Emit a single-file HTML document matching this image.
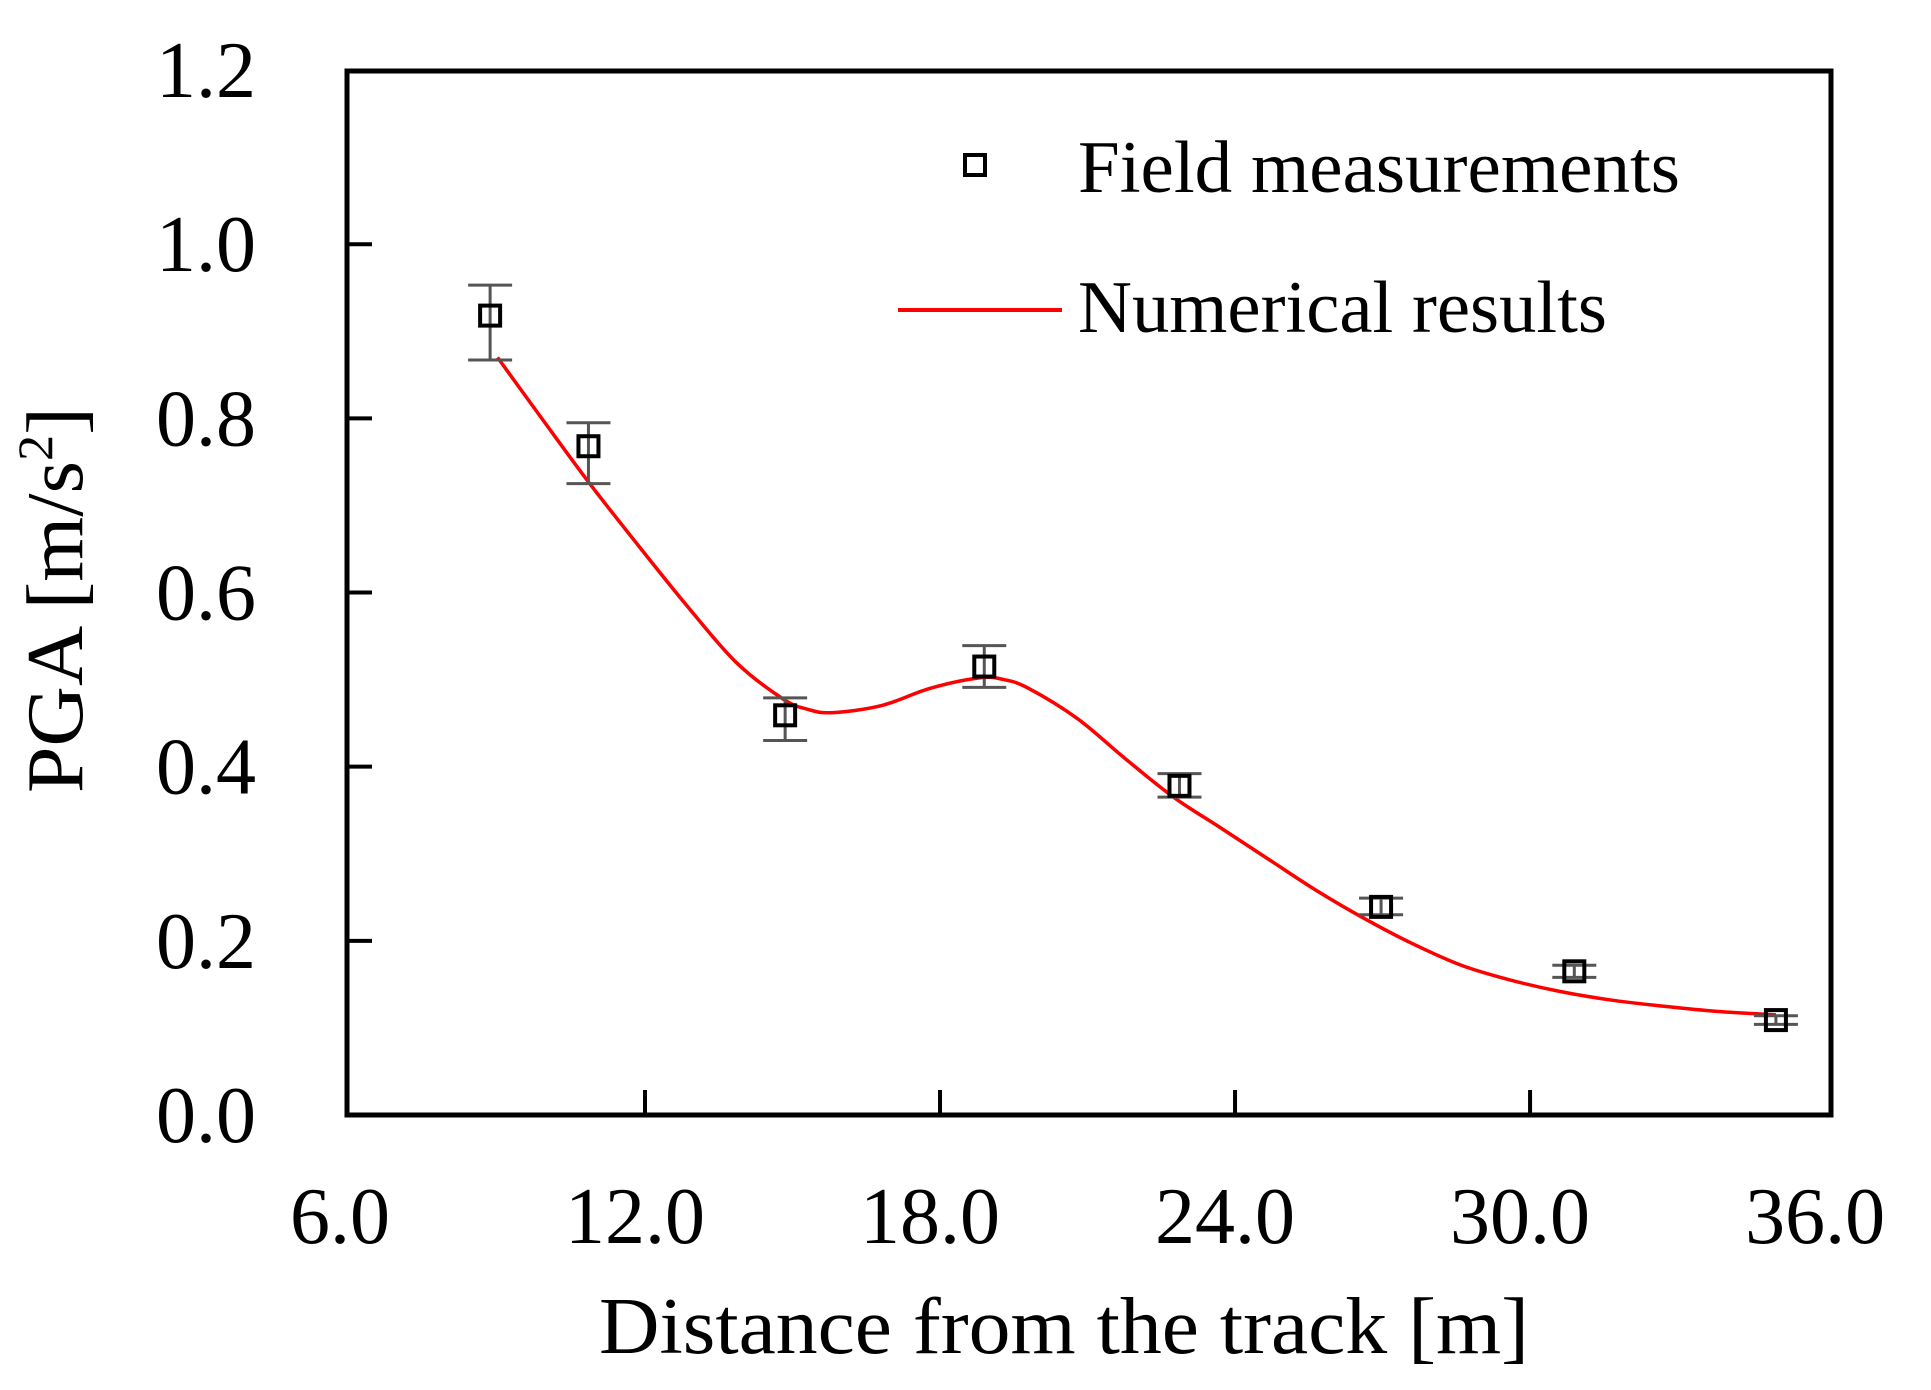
<!DOCTYPE html>
<html><head><meta charset="utf-8">
<style>
html,body{margin:0;padding:0;background:#fff;}
svg{display:block;}
text{font-family:"Liberation Serif",serif;fill:#000;}
</style></head>
<body>
<svg id="chart" width="1931" height="1390" viewBox="0 0 1931 1390" xmlns="http://www.w3.org/2000/svg">
  <rect x="347" y="71" width="1484" height="1044" fill="none" stroke="#000" stroke-width="5"/>
  <g id="ticks"></g>
  <g id="curve"></g>
  <g id="points"></g>
  <text transform="translate(82,600) rotate(-90)" text-anchor="middle" font-size="80" textLength="386" lengthAdjust="spacingAndGlyphs">PGA [m/s<tspan font-size="50" dy="-30">2</tspan><tspan dy="30">]</tspan></text>
  <text x="1064" y="1353" text-anchor="middle" font-size="80" textLength="930" lengthAdjust="spacingAndGlyphs">Distance from the track [m]</text>
  <g>
    <rect x="965" y="155" width="20" height="20" fill="none" stroke="#000" stroke-width="4"/>
    <text x="1078" y="192" font-size="74" textLength="602" lengthAdjust="spacingAndGlyphs">Field measurements</text>
    <line x1="898" y1="310" x2="1062" y2="310" stroke="#ff0000" stroke-width="4"/>
    <text x="1078" y="332" font-size="74" textLength="529" lengthAdjust="spacingAndGlyphs">Numerical results</text>
  </g>
</svg>
<script>
const xTicks = [6, 12, 18, 24, 30, 36];
const xTickLabels = ["6.0", "12.0", "18.0", "24.0", "30.0", "36.0"];
const yTicks = [0, 0.2, 0.4, 0.6, 0.8, 1.0, 1.2];
const yTickLabels = ["0.0", "0.2", "0.4", "0.6", "0.8", "1.0", "1.2"];
const fieldX = [8.85, 10.85, 14.85, 18.9, 22.87, 26.97, 30.9, 35.0];
const fieldY = [0.918, 0.768, 0.459, 0.515, 0.378, 0.239, 0.165, 0.109];
const fieldLow = [0.867, 0.725, 0.43, 0.491, 0.365, 0.23, 0.158, 0.104];
const fieldHigh = [0.953, 0.795, 0.479, 0.539, 0.392, 0.249, 0.172, 0.114];
const numX = [9, 9.9, 10.85, 11.85, 12.85, 13.85, 14.8, 15.3, 15.8, 16.8, 17.8, 18.8, 19.3, 19.8, 20.8, 21.75, 22.75, 23.7, 24.7, 25.65, 26.65, 27.6, 28.6, 29.6, 30.6, 31.65, 32.7, 33.8, 35];
const numY = [0.87, 0.80, 0.727, 0.655, 0.585, 0.52, 0.478, 0.466, 0.462, 0.47, 0.49, 0.502, 0.5, 0.49, 0.455, 0.41, 0.365, 0.33, 0.293, 0.258, 0.225, 0.197, 0.172, 0.155, 0.142, 0.132, 0.125, 0.119, 0.115];

const NS = "http://www.w3.org/2000/svg";
function X(v){ return 645 + (v - 12) * 49.17; }
function Y(v){ return 1115 - v * 870.8; }
function mk(tag, attrs, parent){ const e = document.createElementNS(NS, tag); for (const k in attrs) e.setAttribute(k, attrs[k]); parent.appendChild(e); return e; }

const tg = document.getElementById('ticks');
xTicks.forEach((v, i) => {
  if (v > 6 && v < 36) {
    const t = mk('line', {x1: X(v), x2: X(v), y1: 1115, y2: 1090, stroke: '#000', 'stroke-width': 4}, tg);
    
    
  }
  const l = mk('text', {x: X(v) - 10, y: 1243, 'text-anchor': 'middle', 'font-size': 80}, tg);
  l.textContent = xTickLabels[i];
  
  
});
yTicks.forEach((v, i) => {
  if (v > 0 && v < 1.2) {
    const t = mk('line', {x1: 347, x2: 372, y1: Y(v), y2: Y(v), stroke: '#000', 'stroke-width': 4}, tg);
    
    
  }
  const l = mk('text', {x: 256, y: Y(v) + 27, 'text-anchor': 'end', 'font-size': 80}, tg);
  l.textContent = yTickLabels[i];
  
  
});

const pts = numX.map((x, i) => [X(x), Y(numY[i])]);
let d = 'M' + pts[0][0] + ',' + pts[0][1];
for (let i = 0; i < pts.length - 1; i++) {
  const p0 = pts[Math.max(0, i - 1)], p1 = pts[i], p2 = pts[i + 1], p3 = pts[Math.min(pts.length - 1, i + 2)];
  const c1 = [p1[0] + (p2[0] - p0[0]) / 6, p1[1] + (p2[1] - p0[1]) / 6];
  const c2 = [p2[0] - (p3[0] - p1[0]) / 6, p2[1] - (p3[1] - p1[1]) / 6];
  d += ' C' + c1 + ' ' + c2 + ' ' + p2;
}
const curve = mk('path', {d: d, fill: 'none', stroke: '#ff0000', 'stroke-width': 3.5}, document.getElementById('curve'));



const pg = document.getElementById('points');
fieldX.forEach((x, i) => {
  const cx = X(x);
  const eb = mk('path', {d: 'M' + cx + ',' + Y(fieldLow[i]) + 'V' + Y(fieldHigh[i]) + 'M' + (cx - 22) + ',' + Y(fieldHigh[i]) + 'h44M' + (cx - 22) + ',' + Y(fieldLow[i]) + 'h44', stroke: '#555', 'stroke-width': 3, fill: 'none'}, pg);
  
  
  const r = mk('rect', {x: cx - 10, y: Y(fieldY[i]) - 10, width: 20, height: 20, fill: 'none', stroke: '#000', 'stroke-width': 4}, pg);
  
  
});
</script>
</body></html>
